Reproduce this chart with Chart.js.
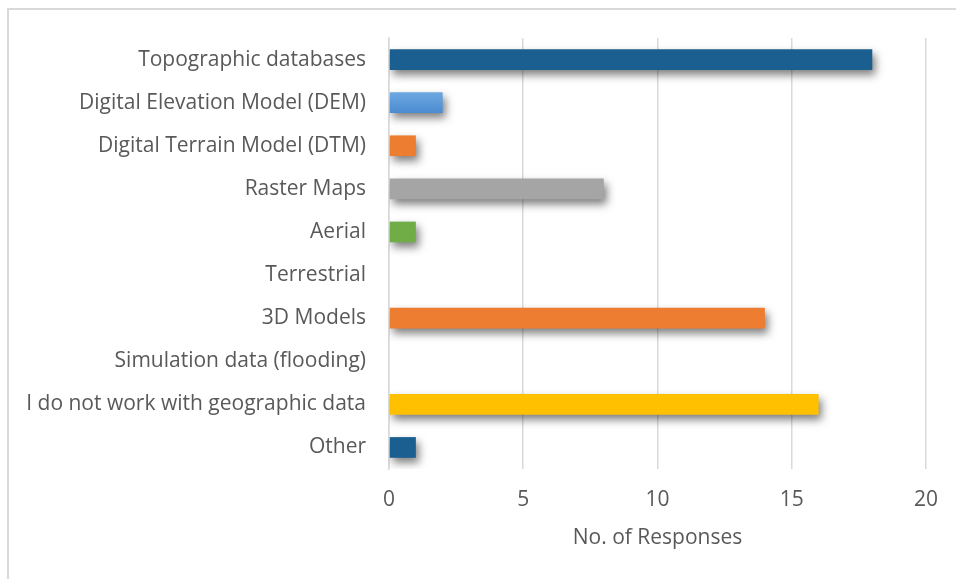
<!DOCTYPE html>
<html>
<head>
<meta charset="utf-8">
<script src="https://cdn.jsdelivr.net/npm/chart.js@4/dist/chart.umd.min.js"></script>
<style>
    html, body { margin: 0; padding: 0; background: #fff; overflow: hidden; }
    #wrap { position: relative; width: 956px; height: 579px; }
    #frame { position: absolute; left: 7px; top: 8px; width: 970px; height: 600px;
             border: 2px solid #d9d9d9; box-sizing: border-box; }
    #chart { position: absolute; left: 0; top: 0; }
</style>
</head>
<body>
<div id="wrap">
    <div id="frame"></div>
    <canvas id="chart" width="956" height="579"></canvas>
</div>
<script>
// ==========================================
// DATA
// ==========================================
const categories = [
    'Topographic databases',
    'Digital Elevation Model (DEM)',
    'Digital Terrain Model (DTM)',
    'Raster Maps',
    'Aerial',
    'Terrestrial',
    '3D Models',
    'Simulation data (flooding)',
    'I do not work with geographic data',
    'Other'
];
const responses = [18, 2, 1, 8, 1, 0, 14, 0, 16, 1];
const barColors = ['#1b5f90', 'gradient', '#ed7d31', '#a5a5a5', '#70ad47', '#4472c4', '#ed7d31', '#5b9bd5', '#ffc000', '#1b5f90'];
const xTicks = [0, 5, 10, 15, 20];
const xTitle = 'No. of Responses';

const FONT = "'Open Sans', 'Noto Sans', sans-serif";
const TEXT_COLOR = '#595959';

// Drop shadow under the bars
const barShadow = {
    id: 'barShadow',
    beforeDatasetDraw(chart) {
        const ctx = chart.ctx;
        ctx.save();
        ctx.shadowColor = 'rgba(0, 0, 0, 0.5)';
        ctx.shadowBlur = 8;
        ctx.shadowOffsetX = 3;
        ctx.shadowOffsetY = 5;
    },
    afterDatasetDraw(chart) {
        chart.ctx.restore();
    }
};

// Light blue bar gets a vertical gradient
function barColor(context) {
    const c = barColors[context.dataIndex];
    if (c !== 'gradient') return c;
    const yScale = context.chart.scales.y;
    if (!yScale || !isFinite(yScale.getPixelForValue(context.dataIndex))) return '#5b9bd5';
    const mid = yScale.getPixelForValue(context.dataIndex);
    const g = context.chart.ctx.createLinearGradient(0, mid - 11, 0, mid + 11);
    g.addColorStop(0, '#6ea8e2');
    g.addColorStop(1, '#4a8bd0');
    return g;
}

new Chart(document.getElementById('chart'), {
    type: 'bar',
    data: {
        labels: categories,
        datasets: [{
            data: responses,
            backgroundColor: barColor,
            borderWidth: 0,
            barPercentage: 0.48,
            categoryPercentage: 1
        }]
    },
    plugins: [barShadow],
    options: {
        indexAxis: 'y',
        responsive: false,
        animation: false,
        layout: {
            padding: { left: 7, top: 38, right: 29, bottom: 0 }
        },
        scales: {
            x: {
                min: 0,
                max: 20,
                afterBuildTicks(scale) {
                    scale.ticks = xTicks.map(v => ({ value: v }));
                },
                afterFit(scale) {
                    scale.height = 110;
                },
                ticks: {
                    color: TEXT_COLOR,
                    padding: 18,
                    font: { family: FONT, size: 21 }
                },
                grid: {
                    color: '#d9d9d9',
                    lineWidth: 1.5,
                    drawTicks: false
                },
                border: { display: false },
                title: {
                    display: true,
                    text: xTitle,
                    color: TEXT_COLOR,
                    font: { family: FONT, size: 21 },
                    padding: { top: 0, bottom: 28 }
                }
            },
            y: {
                afterFit(scale) {
                    scale.width = 382;
                },
                ticks: {
                    color: TEXT_COLOR,
                    padding: 23,
                    autoSkip: false,
                    font: { family: FONT, size: 21 }
                },
                grid: { display: false, drawTicks: false },
                border: { display: true, color: '#d9d9d9', width: 1.5 }
            }
        },
        plugins: {
            legend: { display: false },
            tooltip: { enabled: false }
        }
    }
});
</script>
</body>
</html>
